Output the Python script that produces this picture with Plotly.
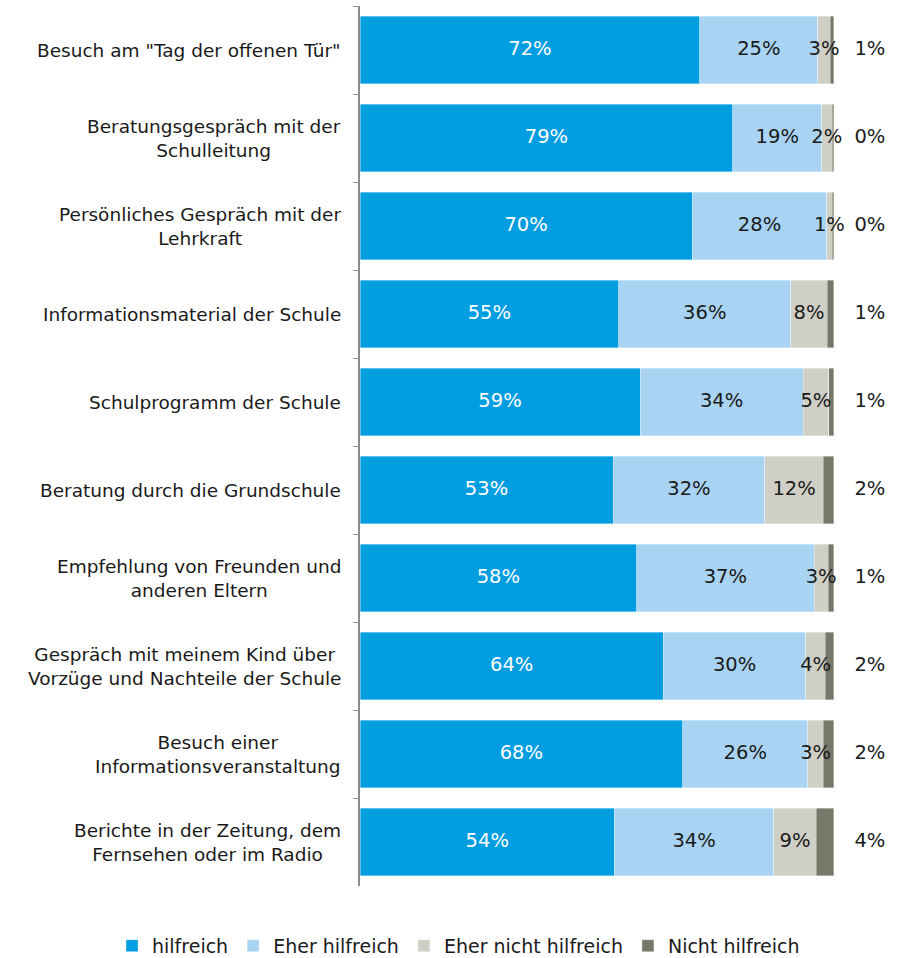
import plotly.graph_objects as go

categories = [
    'Besuch am "Tag der offenen Tür"',
    'Beratungsgespräch mit der<br>Schulleitung',
    'Persönliches Gespräch mit der<br>Lehrkraft',
    'Informationsmaterial der Schule',
    'Schulprogramm der Schule',
    'Beratung durch die Grundschule',
    'Empfehlung von Freunden und<br>anderen Eltern',
    'Gespräch mit meinem Kind über<br>Vorzüge und Nachteile der Schule',
    'Besuch einer<br>Informationsveranstaltung',
    'Berichte in der Zeitung, dem<br>Fernsehen oder im Radio',
]

hilfreich = [71.7, 78.7, 70.1, 54.6, 59.1, 53.4, 58.4, 64.0, 68.1, 53.7]
eher_hilfreich = [24.9, 18.7, 28.4, 36.3, 34.4, 32.0, 37.4, 30.1, 26.4, 33.6]
eher_nicht_hilfreich = [2.6, 2.2, 1.1, 7.7, 5.4, 12.4, 3.0, 4.1, 3.3, 9.0]
nicht_hilfreich = [0.8, 0.4, 0.4, 1.4, 1.1, 2.2, 1.2, 1.8, 2.2, 3.7]

series_names = ["hilfreich", "Eher hilfreich", "Eher nicht hilfreich", "Nicht hilfreich"]
series_values = [hilfreich, eher_hilfreich, eher_nicht_hilfreich, nicht_hilfreich]
colors = ["#009EE0", "#A8D3F3", "#CFCFC6", "#77776A"]
text_colors = ["#FFFFFF", "#1A1A1A", "#1A1A1A", "#1A1A1A"]

FONT = "DejaVu Sans"
FS_CAT = 18.5
FS_VAL = 19.5
FS_LEG = 19

X_MAX = 115.0          # axis extends past 100% so outer labels fit
OUTER_LABEL_X = 107.6  # column for the "Nicht hilfreich" labels

fig = go.Figure()

for name, vals, col in zip(series_names, series_values, colors):
    fig.add_trace(go.Bar(
        y=categories, x=vals, name=name, orientation="h",
        marker=dict(color=col, line=dict(color="rgba(255,255,255,0.6)", width=0.6)),
        hoverinfo="skip",
    ))

# value labels
cum = [0.0] * len(categories)
for i, (vals, tcol) in enumerate(zip(series_values, text_colors)):
    if i < len(series_values) - 1:
        xs = [c + v / 2 for c, v in zip(cum, vals)]
    else:
        xs = [OUTER_LABEL_X] * len(vals)
    fig.add_trace(go.Scatter(
        x=xs, y=categories, mode="text",
        text=[f"{v:.0f}%" for v in vals],
        textposition="middle center",
        textfont=dict(family=FONT, size=FS_VAL, color=tcol),
        showlegend=False, hoverinfo="skip", cliponaxis=False,
    ))
    cum = [c + v for c, v in zip(cum, vals)]

# category labels, centered multi-line
for cat in categories:
    fig.add_annotation(
        x=0, xref="paper", y=cat, yref="y",
        text=cat, showarrow=False, xanchor="right", xshift=-17,
        align="center", font=dict(family=FONT, size=FS_CAT, color="#1A1A1A"),
    )

fig.update_layout(
    width=910, height=958,
    margin=dict(l=360, r=5, t=6, b=72, autoexpand=False),
    barmode="stack", bargap=0.235,
    plot_bgcolor="white", paper_bgcolor="white",
    font=dict(family=FONT, size=FS_CAT, color="#1A1A1A"),
    xaxis=dict(range=[0, X_MAX], visible=False, fixedrange=True),
    yaxis=dict(
        categoryorder="array", categoryarray=categories, autorange="reversed",
        showticklabels=False, ticks="outside", tickson="boundaries", ticklen=5,
        tickcolor="#8C8C8C", showline=True, linecolor="#8C8C8C", linewidth=1.5,
        showgrid=False, zeroline=False, fixedrange=True,
    ),
    legend=dict(
        orientation="h", xref="paper", yref="paper",
        x=-0.455, xanchor="left", y=-0.068, yanchor="middle",
        font=dict(family=FONT, size=FS_LEG, color="#1A1A1A"),
        traceorder="normal", itemclick=False, itemdoubleclick=False,
    ),
    showlegend=True,
)

fig.write_html(
    "out.html",
    config={"displayModeBar": False},
    post_script="document.body.style.margin='0';",
)
